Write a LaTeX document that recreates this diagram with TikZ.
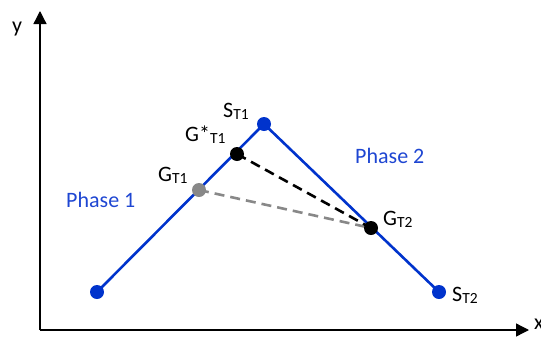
\documentclass[tikz,border=0pt]{standalone}
\usepackage{fontspec}
\setmainfont{Carlito}
\usetikzlibrary{arrows.meta}
\definecolor{lblue}{RGB}{0,51,204}
\definecolor{pblue}{RGB}{30,70,210}
\definecolor{dgray}{RGB}{136,136,136}
\newcommand{\sbs}[1]{\raisebox{-2pt}{\fontsize{15.5}{16}\selectfont #1}}
\tikzset{
  lbl/.style={font=\fontsize{22}{24}\selectfont, inner sep=0pt},
  phase/.style={font=\fontsize{22}{24}\selectfont, text=pblue, inner sep=0pt},
  bdot/.style={circle, fill=lblue, minimum size=14pt, inner sep=0pt},
  kdot/.style={circle, fill=black, minimum size=14pt, inner sep=0pt},
  gdot/.style={circle, fill=dgray, minimum size=14pt, inner sep=0pt},
  seg/.style={draw=lblue, line width=2.6pt},
  axis/.style={line width=1.3pt, -{Triangle[length=13pt,width=13pt]}},
}
\begin{document}
\begin{tikzpicture}[x=1pt,y=-1pt]
\useasboundingbox (0,0) rectangle (541,338);
\coordinate (O) at (40,330);
\coordinate (Ytip) at (40,11);
\coordinate (Xtip) at (529,330);
\draw[axis] (O) -- (Ytip);
\draw[axis] (O) -- (Xtip);
\node[lbl, anchor=base west] (ylab) at (12,32) {y};
\node[lbl, anchor=base west] (xlab) at (534,329) {x};

\coordinate (A) at (97,292);
\coordinate (ST1) at (264,124);
\coordinate (ST2) at (439,292);
\coordinate (GT1) at (199,190);
\coordinate (GsT1) at (237,154);
\coordinate (GT2) at (371,228);

\draw[seg] (A) -- (ST1) -- (ST2);
\draw[dgray, line width=2.6pt, dash pattern=on 10pt off 6pt] (GT1) -- (GT2);
\draw[black, line width=2.6pt, dash pattern=on 10pt off 6pt] (GsT1) -- (GT2);

\node[bdot] (dA) at (A) {};
\node[bdot] (dST1) at (ST1) {};
\node[bdot] (dST2) at (ST2) {};
\node[gdot] (dGT1) at (GT1) {};
\node[kdot] (dGsT1) at (GsT1) {};
\node[kdot] (dGT2) at (GT2) {};

\node[lbl, anchor=base west] (lST1) at (223,117) {S\sbs{T1}};
\node[lbl, anchor=base west] (lGsT1) at (185,141) {G*\sbs{T1}};
\node[lbl, anchor=base west] (lGT1) at (158,181) {G\sbs{T1}};
\node[lbl, anchor=base west] (lGT2) at (383,225) {G\sbs{T2}};
\node[lbl, anchor=base west] (lST2) at (452,301) {S\sbs{T2}};
\node[phase, anchor=base west] (ph1) at (66,207) {Phase 1};
\node[phase, anchor=base west] (ph2) at (355,163) {Phase 2};
\end{tikzpicture}
\end{document}
